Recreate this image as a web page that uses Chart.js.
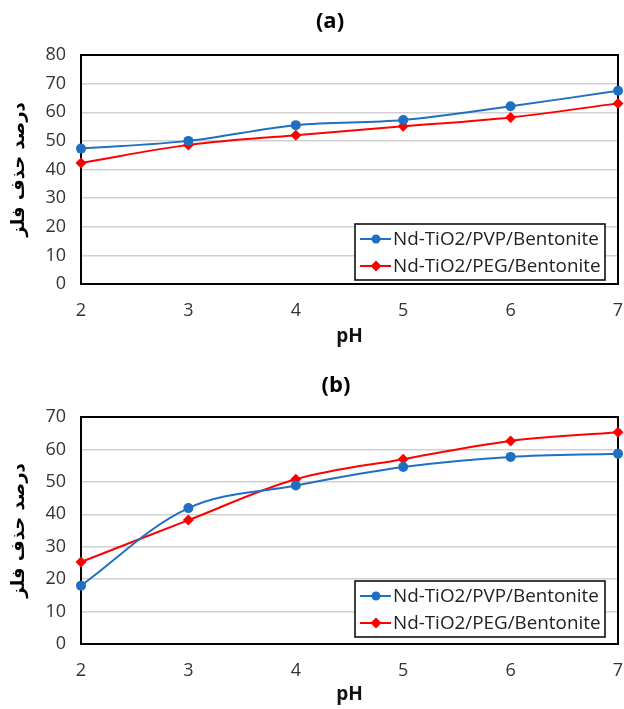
<!DOCTYPE html>
<html>
<head>
<meta charset="utf-8">
<script src="https://cdn.jsdelivr.net/npm/chart.js@4.4.0/dist/chart.umd.min.js"></script>
<style>
  html, body { margin: 0; padding: 0; background: #fff; }
  #wrap { position: relative; width: 624px; height: 709px; }
  .box { position: absolute; left: 0; width: 624px; }
</style>
</head>
<body>
<div id="wrap">
  <div class="box" style="top:0;height:355px"><canvas id="chartA"></canvas></div>
  <div class="box" style="top:355px;height:354px"><canvas id="chartB"></canvas></div>
</div>
<script>
// data
const phLabels = ['2', '3', '4', '5', '6', '7'];
const seriesNames = ['Nd-TiO2/PVP/Bentonite', 'Nd-TiO2/PEG/Bentonite'];
const pvpA = [47.3, 50.0, 55.5, 57.3, 62.1, 67.5];
const pegA = [42.3, 48.6, 52.0, 55.1, 58.2, 63.1];
const pvpB = [18.0, 41.9, 48.9, 54.6, 57.7, 58.7];
const pegB = [25.3, 38.2, 50.8, 57.0, 62.6, 65.3];
const yTitle = 'درصد حذف فلز';
const xTitle = 'pH';

const BLUE = '#1f6fc2';
const RED = '#ff0000';
const TICK_FONT = '"Open Sans", "Liberation Sans", sans-serif';

function drawMarker(ctx, style, x, y, color) {
  ctx.fillStyle = color;
  ctx.beginPath();
  if (style === 'circle') {
    ctx.arc(x, y, 4.5, 0, Math.PI * 2);
  } else {
    const r = 5.5;
    ctx.moveTo(x, y - r);
    ctx.lineTo(x + r, y);
    ctx.lineTo(x, y + r);
    ctx.lineTo(x - r, y);
    ctx.closePath();
  }
  ctx.fill();
}

// chart title, frame round the plot and the boxed legend
const decoPlugin = {
  id: 'deco',
  beforeDatasetsDraw(chart) {
    const ctx = chart.ctx;
    const a = chart.chartArea;
    ctx.save();
    ctx.strokeStyle = '#000';
    ctx.lineWidth = 2;
    ctx.strokeRect(a.left, a.top, a.right - a.left, a.bottom - a.top);
    ctx.restore();
  },
  afterDraw(chart, args, opts) {
    const ctx = chart.ctx;
    const a = chart.chartArea;
    ctx.save();
    // title
    ctx.fillStyle = '#000';
    ctx.font = 'bold 22px ' + TICK_FONT;
    ctx.textAlign = 'center';
    ctx.textBaseline = 'middle';
    ctx.fillText(opts.title, opts.titleX, opts.titleY);

    // legend
    const w = 250, h = 56;
    const right = a.right - 13;
    const bottom = a.bottom - opts.legendGap;
    const left = right - w;
    const top = bottom - h;
    ctx.fillStyle = '#fff';
    ctx.fillRect(left, top, w, h);
    ctx.strokeStyle = '#000';
    ctx.lineWidth = 1.5;
    ctx.strokeRect(left, top, w, h);

    ctx.font = '16px ' + TICK_FONT;
    const tw = ctx.measureText(seriesNames[0]).width;
    const size = 16 * 206 / tw;
    ctx.font = size.toFixed(2) + 'px ' + TICK_FONT;
    ctx.textAlign = 'left';
    chart.data.datasets.forEach((ds, i) => {
      const cy = top + 15 + i * 27;
      ctx.strokeStyle = ds.borderColor;
      ctx.lineWidth = 2;
      ctx.beginPath();
      ctx.moveTo(left + 5, cy);
      ctx.lineTo(left + 36, cy);
      ctx.stroke();
      drawMarker(ctx, ds.pointStyle, left + 21, cy, ds.borderColor);
      ctx.fillStyle = '#222';
      ctx.fillText(ds.label, left + 38, cy + 1);
    });
    ctx.restore();
  }
};

function makeChart(id, pvp, peg, yMax, deco, plotTop, plotBottom, canvasH, pHpad) {
  const ctx = document.getElementById(id).getContext('2d');
  return new Chart(ctx, {
    type: 'line',
    data: {
      labels: phLabels,
      datasets: [{
        label: seriesNames[0],
        data: pvp,
        borderColor: BLUE,
        backgroundColor: BLUE,
        pointStyle: 'circle',
        pointRadius: 5,
        pointBorderWidth: 0,
        borderWidth: 2,
        tension: 0.35,
        clip: false
      }, {
        label: seriesNames[1],
        data: peg,
        borderColor: RED,
        backgroundColor: RED,
        pointStyle: 'rectRot',
        pointRadius: 5.5,
        pointBorderWidth: 0,
        borderWidth: 2,
        tension: 0.35,
        clip: false
      }]
    },
    options: {
      responsive: true,
      maintainAspectRatio: false,
      animation: false,
      layout: { padding: { top: plotTop, left: 0, right: 6, bottom: 0 } },
      plugins: {
        legend: { display: false },
        title: { display: false },
        tooltip: { enabled: false },
        deco: deco
      },
      scales: {
        x: {
          offset: false,
          grid: { display: false, drawTicks: false },
          border: { display: false },
          ticks: { font: { family: TICK_FONT, size: 18 }, color: '#333', padding: 16 },
          title: {
            display: true,
            text: xTitle,
            color: '#111',
            font: { family: TICK_FONT, size: 19, weight: 'bold' },
            padding: { top: 0, bottom: pHpad }
          },
          afterFit: function (s) {
            s.height = canvasH - plotBottom;
            s.paddingLeft = 0;
            s.paddingRight = 0;
          }
        },
        y: {
          min: 0,
          max: yMax,
          grid: { color: '#d0d0d0', lineWidth: 1.5, drawTicks: false },
          border: { display: false },
          ticks: { stepSize: 10, font: { family: TICK_FONT, size: 18 }, color: '#333', padding: 15 },
          title: {
            display: true,
            text: yTitle,
            color: '#000',
            font: { family: '"DejaVu Sans", sans-serif', size: 18, weight: 'bold' },
            padding: { top: 9, bottom: 0 }
          },
          afterFit: function (s) {
            s.width = 81;
          }
        }
      }
    },
    plugins: [decoPlugin]
  });
}

makeChart('chartA', pvpA, pegA, 80, { title: '(a)', titleX: 330, titleY: 22, legendGap: 4 }, 55, 284, 355, 7);
makeChart('chartB', pvpB, pegB, 70, { title: '(b)', titleX: 336, titleY: 31, legendGap: 7 }, 62, 289, 354, 3);
</script>
</body>
</html>
